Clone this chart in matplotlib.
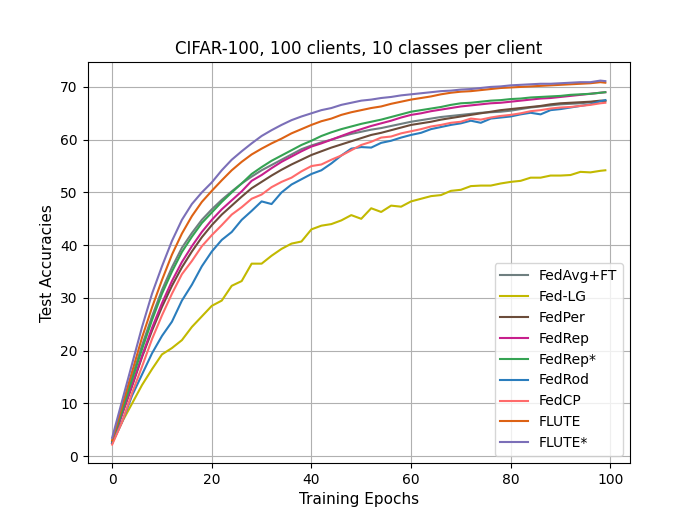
import numpy as np
import matplotlib
matplotlib.use("Agg")
import matplotlib.pyplot as plt

# epochs sampled every 2, plus the last one
epochs = list(range(0, 100, 2)) + [99]

fedavg_ft = [2.8, 9.0, 15.0, 21.0, 26.5, 31.5, 35.8, 39.5, 42.3, 44.8,
             46.8, 48.6, 50.2, 51.7, 53.0, 54.2, 55.2, 56.2, 57.2, 58.2,
             58.9, 59.5, 60.0, 60.6, 61.1, 61.5, 61.9, 62.2, 62.6, 63.0,
             63.4, 63.7, 64.0, 64.3, 64.5, 64.7, 64.9, 65.1, 65.2, 65.3,
             65.5, 65.8, 66.1, 66.3, 66.5, 66.7, 66.8, 66.9, 67.1, 67.3, 67.3]
fed_lg = [2.5, 6.5, 10.0, 13.5, 16.5, 19.3, 20.5, 22.0, 24.5, 26.5,
          28.5, 29.5, 32.3, 33.2, 36.5, 36.5, 38.0, 39.3, 40.3, 40.7,
          43.0, 43.7, 44.0, 44.7, 45.7, 45.0, 47.0, 46.3, 47.5, 47.3,
          48.3, 48.8, 49.3, 49.5, 50.3, 50.5, 51.2, 51.3, 51.3, 51.7,
          52.0, 52.2, 52.8, 52.8, 53.2, 53.2, 53.3, 53.9, 53.8, 54.1, 54.2]
fedper = [2.5, 8.0, 13.3, 18.8, 23.8, 28.3, 32.3, 35.8, 38.8, 41.5,
          43.8, 45.8, 47.5, 49.2, 50.8, 52.0, 53.2, 54.3, 55.3, 56.2,
          57.1, 57.8, 58.5, 59.1, 59.7, 60.3, 60.9, 61.3, 61.8, 62.3,
          62.8, 63.1, 63.4, 63.8, 64.1, 64.4, 64.7, 65.0, 65.3, 65.6,
          65.8, 66.0, 66.2, 66.4, 66.7, 66.9, 67.0, 67.1, 67.2, 67.4, 67.4]
fedrep = [2.5, 8.0, 13.5, 19.0, 24.3, 29.0, 33.2, 36.8, 39.8, 42.5,
          44.8, 46.8, 48.5, 50.2, 52.2, 53.3, 54.6, 55.8, 56.8, 57.8,
          58.7, 59.3, 60.0, 60.7, 61.4, 62.0, 62.6, 63.1, 63.6, 64.2,
          64.7, 65.0, 65.4, 65.7, 66.0, 66.3, 66.5, 66.7, 66.9, 67.0,
          67.2, 67.4, 67.6, 67.8, 67.9, 68.1, 68.3, 68.5, 68.7, 68.9, 69.0]
fedrep_star = [2.8, 8.5, 14.5, 20.3, 25.8, 30.8, 35.0, 38.7, 41.6, 44.2,
               46.2, 48.2, 50.0, 51.7, 53.5, 54.8, 56.0, 57.0, 58.0, 59.0,
               59.8, 60.7, 61.4, 62.0, 62.5, 63.0, 63.4, 63.8, 64.3, 64.8,
               65.3, 65.6, 65.9, 66.2, 66.6, 66.9, 67.0, 67.2, 67.4, 67.5,
               67.7, 67.8, 68.0, 68.1, 68.2, 68.3, 68.5, 68.6, 68.7, 68.9, 69.0]
fedrod = [2.5, 6.5, 11.5, 15.5, 19.5, 22.8, 25.5, 29.5, 32.5, 36.0,
          38.8, 41.0, 42.5, 44.8, 46.5, 48.3, 47.8, 50.0, 51.5, 52.5,
          53.5, 54.2, 55.5, 57.0, 58.3, 58.6, 58.5, 59.4, 59.8, 60.4,
          60.9, 61.3, 62.0, 62.4, 62.8, 63.1, 63.6, 63.2, 64.0, 64.2,
          64.4, 64.8, 65.1, 64.8, 65.6, 65.8, 66.1, 66.4, 66.7, 67.3, 67.5]
fedcp = [2.2, 6.5, 12.0, 17.0, 22.2, 26.7, 30.8, 34.5, 37.0, 39.8,
         41.9, 43.8, 45.8, 47.2, 48.8, 49.6, 51.0, 52.0, 52.8, 54.0,
         55.0, 55.3, 56.2, 57.0, 58.0, 59.0, 59.6, 60.4, 60.6, 61.2,
         61.6, 62.0, 62.5, 62.8, 63.2, 63.4, 64.0, 63.8, 64.2, 64.5,
         64.7, 65.0, 65.4, 65.6, 65.9, 66.1, 66.2, 66.4, 66.6, 66.9, 67.0]
flute = [3.0, 9.5, 16.0, 22.5, 28.2, 33.4, 38.2, 42.2, 45.5, 48.2,
         50.3, 52.3, 54.2, 55.8, 57.2, 58.3, 59.3, 60.2, 61.2, 62.0,
         62.8, 63.5, 64.0, 64.7, 65.2, 65.6, 66.0, 66.3, 66.8, 67.2,
         67.6, 67.9, 68.2, 68.6, 68.9, 69.1, 69.2, 69.4, 69.6, 69.8,
         69.9, 70.0, 70.1, 70.2, 70.3, 70.4, 70.5, 70.6, 70.7, 70.9, 70.8]
flute_star = [3.5, 10.5, 17.5, 24.5, 30.8, 36.0, 40.8, 44.8, 47.8, 50.0,
              51.9, 54.2, 56.2, 57.8, 59.3, 60.7, 61.8, 62.8, 63.7, 64.4,
              65.0, 65.6, 66.0, 66.6, 67.0, 67.4, 67.6, 67.9, 68.1, 68.4,
              68.6, 68.8, 69.0, 69.2, 69.3, 69.5, 69.6, 69.8, 70.0, 70.1,
              70.3, 70.4, 70.5, 70.6, 70.6, 70.7, 70.8, 70.9, 70.9, 71.2, 71.1]

labels = ["FedAvg+FT", "Fed-LG", "FedPer", "FedRep", "FedRep*",
          "FedRod", "FedCP", "FLUTE", "FLUTE*"]
series = [fedavg_ft, fed_lg, fedper, fedrep, fedrep_star,
          fedrod, fedcp, flute, flute_star]
colors = ["#6f7f80", "#c2b900", "#6b4c3a", "#c71f8c", "#35a353",
          "#2a7dbd", "#ff6b6b", "#dd6214", "#7b6fb8"]

fig = plt.figure(figsize=(7, 5.2), dpi=100)
for lab, y, c in zip(labels, series, colors):
    plt.plot(epochs, y, color=c, label=lab)

plt.title("CIFAR-100, 100 clients, 10 classes per client")
plt.xlabel("Training Epochs", fontsize=11)
plt.ylabel("Test Accuracies", fontsize=11)
plt.grid(True, color="#b0b0b0")
plt.legend(loc="lower right")
plt.savefig("out.png")
